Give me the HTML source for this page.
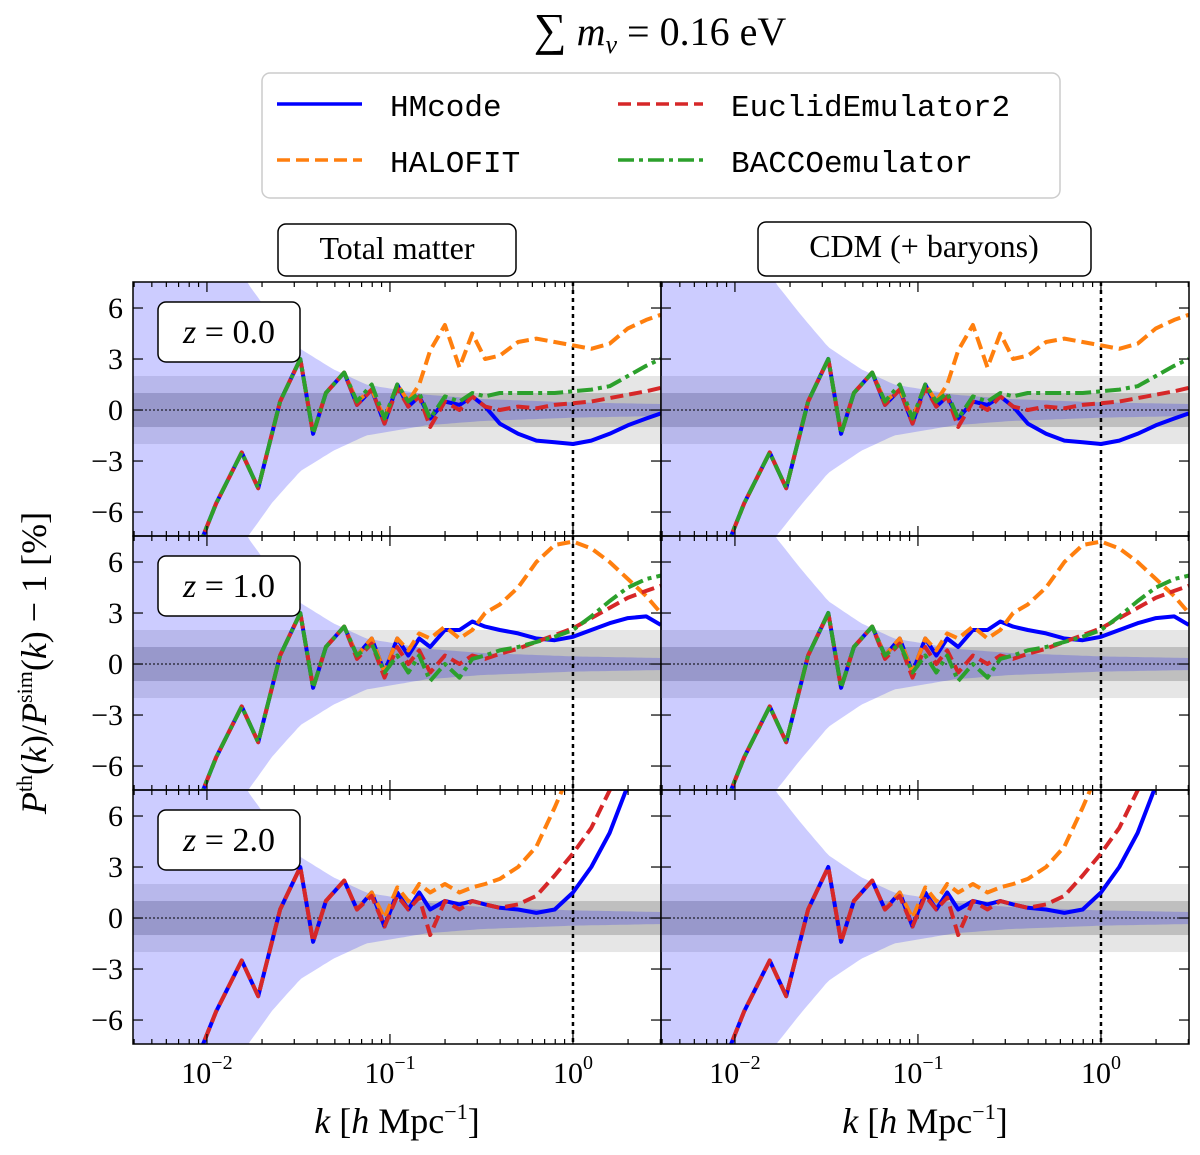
<!DOCTYPE html>
<html><head><meta charset="utf-8"><style>
body{margin:0;background:#fff;}
svg{display:block;font-family:"Liberation Serif",serif;}
</style></head><body>
<svg id="fig" width="1200" height="1155" viewBox="0 0 1200 1155">
<text x="660" y="45" text-anchor="middle" font-size="40" font-style="italic"><tspan font-style="normal" font-size="46">∑</tspan> m<tspan font-size="26" dy="8">ν</tspan><tspan dy="-8" font-style="normal"> = 0.16 eV</tspan></text>
<g>
<rect x="262" y="73" width="798" height="125" rx="8" fill="#fff" stroke="#ccc" stroke-width="1.5"/>
<g><line x1="277" y1="104" x2="362" y2="104" stroke="#0000ff" stroke-width="3.5"/><text x="390" y="116" font-family="Liberation Mono,monospace" font-size="31">HMcode</text></g>
<g><line x1="277" y1="160" x2="362" y2="160" stroke="#ff7f0e" stroke-width="3.5" stroke-dasharray="13,6"/><text x="390" y="172" font-family="Liberation Mono,monospace" font-size="31">HALOFIT</text></g>
<g><line x1="618" y1="104" x2="703" y2="104" stroke="#d62728" stroke-width="3.5" stroke-dasharray="13,6"/><text x="731" y="116" font-family="Liberation Mono,monospace" font-size="31">EuclidEmulator2</text></g>
<g><line x1="618" y1="160" x2="703" y2="160" stroke="#2ca02c" stroke-width="3.5" stroke-dasharray="16,5,4,5"/><text x="731" y="172" font-family="Liberation Mono,monospace" font-size="31">BACCOemulator</text></g>
</g>
<g><rect x="278" y="224" width="238" height="52" rx="8" fill="#fff" stroke="#000" stroke-width="1.5"/><text x="397" y="259" text-anchor="middle" font-size="32">Total matter</text></g>
<g><rect x="758" y="222" width="333" height="54" rx="8" fill="#fff" stroke="#000" stroke-width="1.5"/><text x="924" y="257" text-anchor="middle" font-size="32">CDM (+ baryons)</text></g>
<text transform="translate(46,663) rotate(-90)" text-anchor="middle" font-size="36"><tspan font-style="italic">P</tspan><tspan font-size="22" dy="-14">th</tspan><tspan dy="14">(</tspan><tspan font-style="italic">k</tspan>)/<tspan font-style="italic">P</tspan><tspan font-size="22" dy="-14">sim</tspan><tspan dy="14">(</tspan><tspan font-style="italic">k</tspan>) − 1 [%]</text>
<g id="panels"></g>
</svg>
<script>
const logk=[-2.05,-1.95,-1.81,-1.72,-1.6,-1.49,-1.42,-1.35,-1.25,-1.18,-1.1,-1.03,-0.96,-0.9,-0.84,-0.78,-0.7,-0.62,-0.55,-0.48,-0.4,-0.3,-0.2,-0.1,0,0.1,0.2,0.3,0.4,0.48];
const low=[-8.2,-5.5,-2.5,-4.6,0.5,3.0,-1.4,1.0,2.2];
const hm0=low.concat([0.3,1.2,-0.8,1.5,0.2,0.8,-0.5,0.5,0.3,0.8,0.2,-0.8,-1.4,-1.8,-1.9,-2.0,-1.8,-1.4,-0.9,-0.5,-0.2]);
const hf0=low.concat([0.5,1.2,-0.5,1.5,0.5,1.5,3.5,5.0,2.5,4.5,3.0,3.2,4.0,4.2,4.0,3.8,3.6,3.9,4.8,5.3,5.6]);
const ee0=low.concat([0.3,1.2,-0.8,1.3,0.2,0.8,-1.0,0.5,0.0,0.8,0.2,0.0,0.2,0.1,0.3,0.4,0.5,0.7,0.9,1.1,1.3]);
const bc0=low.concat([0.5,1.5,-0.5,1.5,0.5,1.0,-0.5,0.8,0.5,1.0,0.8,1.0,1.0,1.0,1.0,1.1,1.2,1.4,2.0,2.6,3.0]);
const hm1=low.concat([0.5,1.5,-0.5,1.5,0.5,1.5,1.0,2.0,2.0,2.5,2.2,2.0,1.8,1.5,1.4,1.6,2.0,2.4,2.7,2.8,2.3]);
const hf1=low.concat([0.5,1.5,-0.5,1.5,0.8,1.8,1.5,2.2,1.5,2.0,3.0,3.5,4.5,6.0,7.0,7.2,6.8,6.0,5.0,4.0,3.0]);
const ee1=low.concat([0.3,1.2,-0.8,1.0,0.0,0.8,-0.5,0.5,0.0,0.5,0.3,0.6,0.9,1.3,1.7,2.1,2.7,3.3,3.9,4.3,4.6]);
const bc1=low.concat([0.5,1.2,-0.5,0.5,-0.5,0.5,-1.0,0.0,-0.8,0.3,0.5,0.8,1.0,1.3,1.6,2.0,2.8,3.7,4.5,5.0,5.2]);
const hm2=low.concat([0.5,1.5,-0.5,1.5,0.5,1.5,0.5,1.0,0.8,1.0,0.8,0.6,0.5,0.3,0.5,1.5,3.0,5.0,7.8,9,10]);
const hf2=low.concat([0.5,1.5,0.0,1.8,1.0,2.0,1.5,2.0,1.5,1.8,2.0,2.3,3.0,4.2,6.5,9,10,10,10,10,10]);
const ee2=low.concat([0.5,1.3,-0.5,1.3,0.5,1.2,-1.0,1.0,0.5,1.0,0.8,0.6,0.8,1.3,2.5,3.8,5.3,7.5,9,10,10]);
const sigK=[-2.45,-1.78,-1.64,-1.49,-1.31,-1.13,-0.8,-0.5,0,0.5];
const sigTot=[25,7.5,5.4,3.6,2.4,1.5,0.9,0.65,0.45,0.35];
const sigCdm=[25,7.5,5.6,3.7,2.4,1.5,0.9,0.65,0.45,0.35];
const yTicks=[6,3,0,-3,-6];
const yTickLabels=["6","3","0","−3","−6"];
const xTicks=[-2,-1,0];
const zLabels=["0.0","1.0","2.0"];
const rowsData=[[hm0,hf0,ee0,bc0],[hm1,hf1,ee1,bc1],[hm2,hf2,ee2,null]];
const seriesNames=["hmcode","halofit","euclidemulator2","bacco"];
const colors=["#0000ff","#ff7f0e","#d62728","#2ca02c"];
const dashes=["none","13,6","13,6","16,5,4,5"];

const NS="http://www.w3.org/2000/svg";
const root=document.getElementById('panels');
function mk(tag,attrs,parent){const e=document.createElementNS(NS,tag);for(const k in attrs)e.setAttribute(k,attrs[k]);(parent||root).appendChild(e);return e;}
const cols=[133,661], rowsY=[282,536,790], W=528, H=254;
const LMIN=-2.404, LMAX=0.481, YMAX=7.53, YMIN=-7.41;
function interp(xs,ys,x){if(x<=xs[0])return ys[0];for(let i=1;i<xs.length;i++){if(x<=xs[i]){const t=(x-xs[i-1])/(xs[i]-xs[i-1]);return ys[i-1]+t*(ys[i]-ys[i-1]);}}return ys[ys.length-1];}
cols.forEach((x0,ci)=>{
 rowsY.forEach((y0,ri)=>{
  const sx=l=>x0+(l-LMIN)/(LMAX-LMIN)*W;
  const sy=v=>y0+(YMAX-v)/(YMAX-YMIN)*H;
  const g=mk('g',{});
  
  
  const cid='clip'+ci+ri;
  const cp=mk('clipPath',{id:cid},g);mk('rect',{x:x0,y:y0,width:W,height:H},cp);
  const inner=mk('g',{'clip-path':'url(#'+cid+')'},g);
  const b2=mk('rect',{x:x0,y:sy(2),width:W,height:sy(-2)-sy(2),fill:'#e6e6e6'},inner);
  
  const b1=mk('rect',{x:x0,y:sy(1),width:W,height:sy(-1)-sy(1),fill:'#bfbfbf'},inner);
  
  const sig=ci?sigCdm:sigTot;let up=[],dn=[];
  for(let l=LMIN;l<=LMAX+0.001;l+=0.02){const s=interp(sigK,sig,l);up.push(sx(l).toFixed(1)+','+sy(Math.min(s,9)).toFixed(1));dn.unshift(sx(l).toFixed(1)+','+sy(Math.max(-s,-9)).toFixed(1));}
  const cv=mk('polygon',{points:up.concat(dn).join(' '),fill:'#0000ff','fill-opacity':0.2},inner);
  
  mk('line',{x1:x0,x2:x0+W,y1:sy(0),y2:sy(0),stroke:'#000','stroke-width':1,'stroke-dasharray':'2,2'},inner);
  const vl=mk('line',{x1:sx(0),x2:sx(0),y1:y0,y2:y0+H,stroke:'#000','stroke-width':2.5,'stroke-dasharray':'4,4'},inner);
  
  rowsData[ri].forEach((arr,si)=>{
   if(!arr)return;
   const pts=arr.map((v,i)=>sx(logk[i]).toFixed(1)+','+sy(v).toFixed(1)).join(' ');
   const p=mk('polyline',{points:pts,fill:'none',stroke:colors[si],'stroke-width':4,'stroke-dasharray':dashes[si],'stroke-linejoin':'round'},inner);
   
   
  });
  mk('rect',{x:x0,y:y0,width:W,height:H,fill:'none',stroke:'#000','stroke-width':1.5},g);
  yTicks.forEach((t,i)=>{
   mk('line',{x1:x0,x2:x0+10,y1:sy(t),y2:sy(t),stroke:'#000','stroke-width':1.2},g);
   mk('line',{x1:x0+W,x2:x0+W-10,y1:sy(t),y2:sy(t),stroke:'#000','stroke-width':1.2},g);
   if(ci===0){const tl=mk('text',{x:x0-10,y:sy(t)+10,'text-anchor':'end','font-size':30},g);tl.textContent=yTickLabels[i];
    }
  });
  for(let d=-3;d<=0;d++){for(let m=1;m<10;m++){const l=d+Math.log10(m);if(l<LMIN||l>LMAX)continue;const len=m===1?10:5;
   mk('line',{x1:sx(l),x2:sx(l),y1:y0+H,y2:y0+H-len,stroke:'#000','stroke-width':1.2},g);
   mk('line',{x1:sx(l),x2:sx(l),y1:y0,y2:y0+len,stroke:'#000','stroke-width':1.2},g);}}
  if(ci===0){const zb=mk('g',{},g);
   mk('rect',{x:x0+25,y:y0+20,width:142,height:60,rx:8,fill:'#fff',stroke:'#000','stroke-width':1.5},zb);
   const zt=mk('text',{x:x0+96,y:y0+61,'text-anchor':'middle','font-size':34},zb);
   zt.innerHTML='<tspan font-style="italic">z</tspan> = '+zLabels[ri];}
  if(ri===2){xTicks.forEach(t=>{const tl=mk('text',{x:sx(t),y:1083,'text-anchor':'middle','font-size':30},g);
   tl.innerHTML='10<tspan font-size="20" dy="-14">'+(t<0?'−'+(-t):t)+'</tspan>';
   });
   const xl=mk('text',{x:x0+W/2,y:1133,'text-anchor':'middle','font-size':36},g);
   xl.innerHTML='<tspan font-style="italic">k</tspan> [<tspan font-style="italic">h</tspan> Mpc<tspan font-size="22" dy="-14">−1</tspan><tspan dy="14">]</tspan>';
   }
 });
});
</script>
</body></html>
